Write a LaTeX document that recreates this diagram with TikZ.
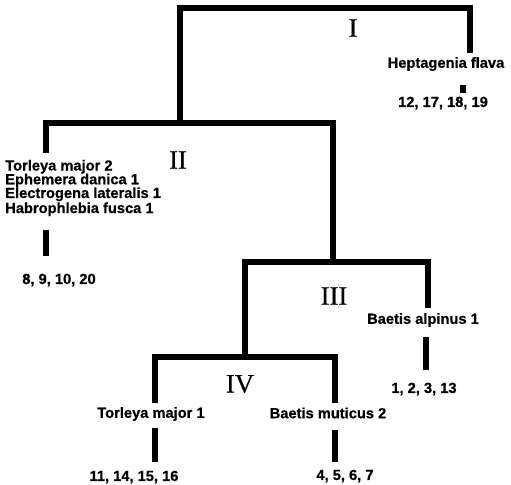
\documentclass[tikz,border=0pt]{standalone}
\usepackage{fontspec}
\setmainfont{Liberation Sans}[BoldFeatures={FakeBold=0.6}]
\newfontfamily\romanfont{Liberation Serif}[FakeBold=0.4]
\begin{document}
\begin{tikzpicture}[x=0.75pt,y=-0.75pt,
  branch/.style={line width=3.8pt,line cap=rect},
  bar/.style={line width=4.6pt},
  taxon/.style={font=\fontsize{11}{10.3}\selectfont\bfseries,inner sep=0pt,align=left},
  roman/.style={font=\romanfont\fontsize{20}{20}\selectfont,inner sep=0pt}]
\useasboundingbox (0,0) rectangle (511,485);
% junction coordinates
\coordinate (r1) at (180,8);  \coordinate (s1) at (470,8);
\coordinate (t1) at (470,50);
\coordinate (r2) at (46,123); \coordinate (s2) at (333,123);
\coordinate (m2) at (180,123);
\coordinate (t2) at (46,150);
\coordinate (r3) at (245,262); \coordinate (s3) at (428,262);
\coordinate (m3) at (333,262);
\coordinate (t3) at (428,305);
\coordinate (r4) at (155,357); \coordinate (s4) at (335,357);
\coordinate (m4) at (245,357);
\coordinate (t4a) at (155,400); \coordinate (t4b) at (335,400);
% tree
\draw[branch] (m2) -- (r1) -- (s1) -- (t1);
\draw[branch] (t2) -- (r2) -- (s2) -- (m3);
\draw[branch] (m4) -- (r3) -- (s3) -- (t3);
\draw[branch] (t4a) -- (r4) -- (s4) -- (t4b);
% roman labels
\node[roman] (nI) at (353,28) {I};
\node[roman] (nII) at (178,160) {II};
\node[roman] (nIII) at (334,296) {III};
\node[roman] (nIV) at (240,384) {IV};
% taxa
\node[taxon] (hf) at (446,64) {Heptagenia flava};
\coordinate (hfa) at (463,85); \coordinate (hfb) at (463,93);
\draw[bar] (hfa) -- (hfb);
\node[taxon] (hfn) at (443,103) {12, 17, 18, 19};
\node[taxon,anchor=west] (grp) at (5,188) {Torleya major 2\\Ephemera danica 1\\Electrogena lateralis 1\\Habrophlebia fusca 1};
\coordinate (ga) at (46,230); \coordinate (gb) at (46,256);
\draw[bar] (ga) -- (gb);
\node[taxon] (gn) at (59,280) {8, 9, 10, 20};
\node[taxon] (ba) at (423,320) {Baetis alpinus 1};
\coordinate (baa) at (426,337); \coordinate (bab) at (426,370);
\draw[bar] (baa) -- (bab);
\node[taxon] (ban) at (424,389) {1, 2, 3, 13};
\node[taxon] (tm) at (151,414) {Torleya major 1};
\coordinate (tma) at (155,428); \coordinate (tmb) at (155,462);
\draw[bar] (tma) -- (tmb);
\node[taxon] (tmn) at (134,477) {11, 14, 15, 16};
\node[taxon] (bm) at (328,413) {Baetis muticus 2};
\coordinate (bma) at (335,430); \coordinate (bmb) at (335,462);
\draw[bar] (bma) -- (bmb);
\node[taxon] (bmn) at (345,476) {4, 5, 6, 7};
\end{tikzpicture}
\end{document}
